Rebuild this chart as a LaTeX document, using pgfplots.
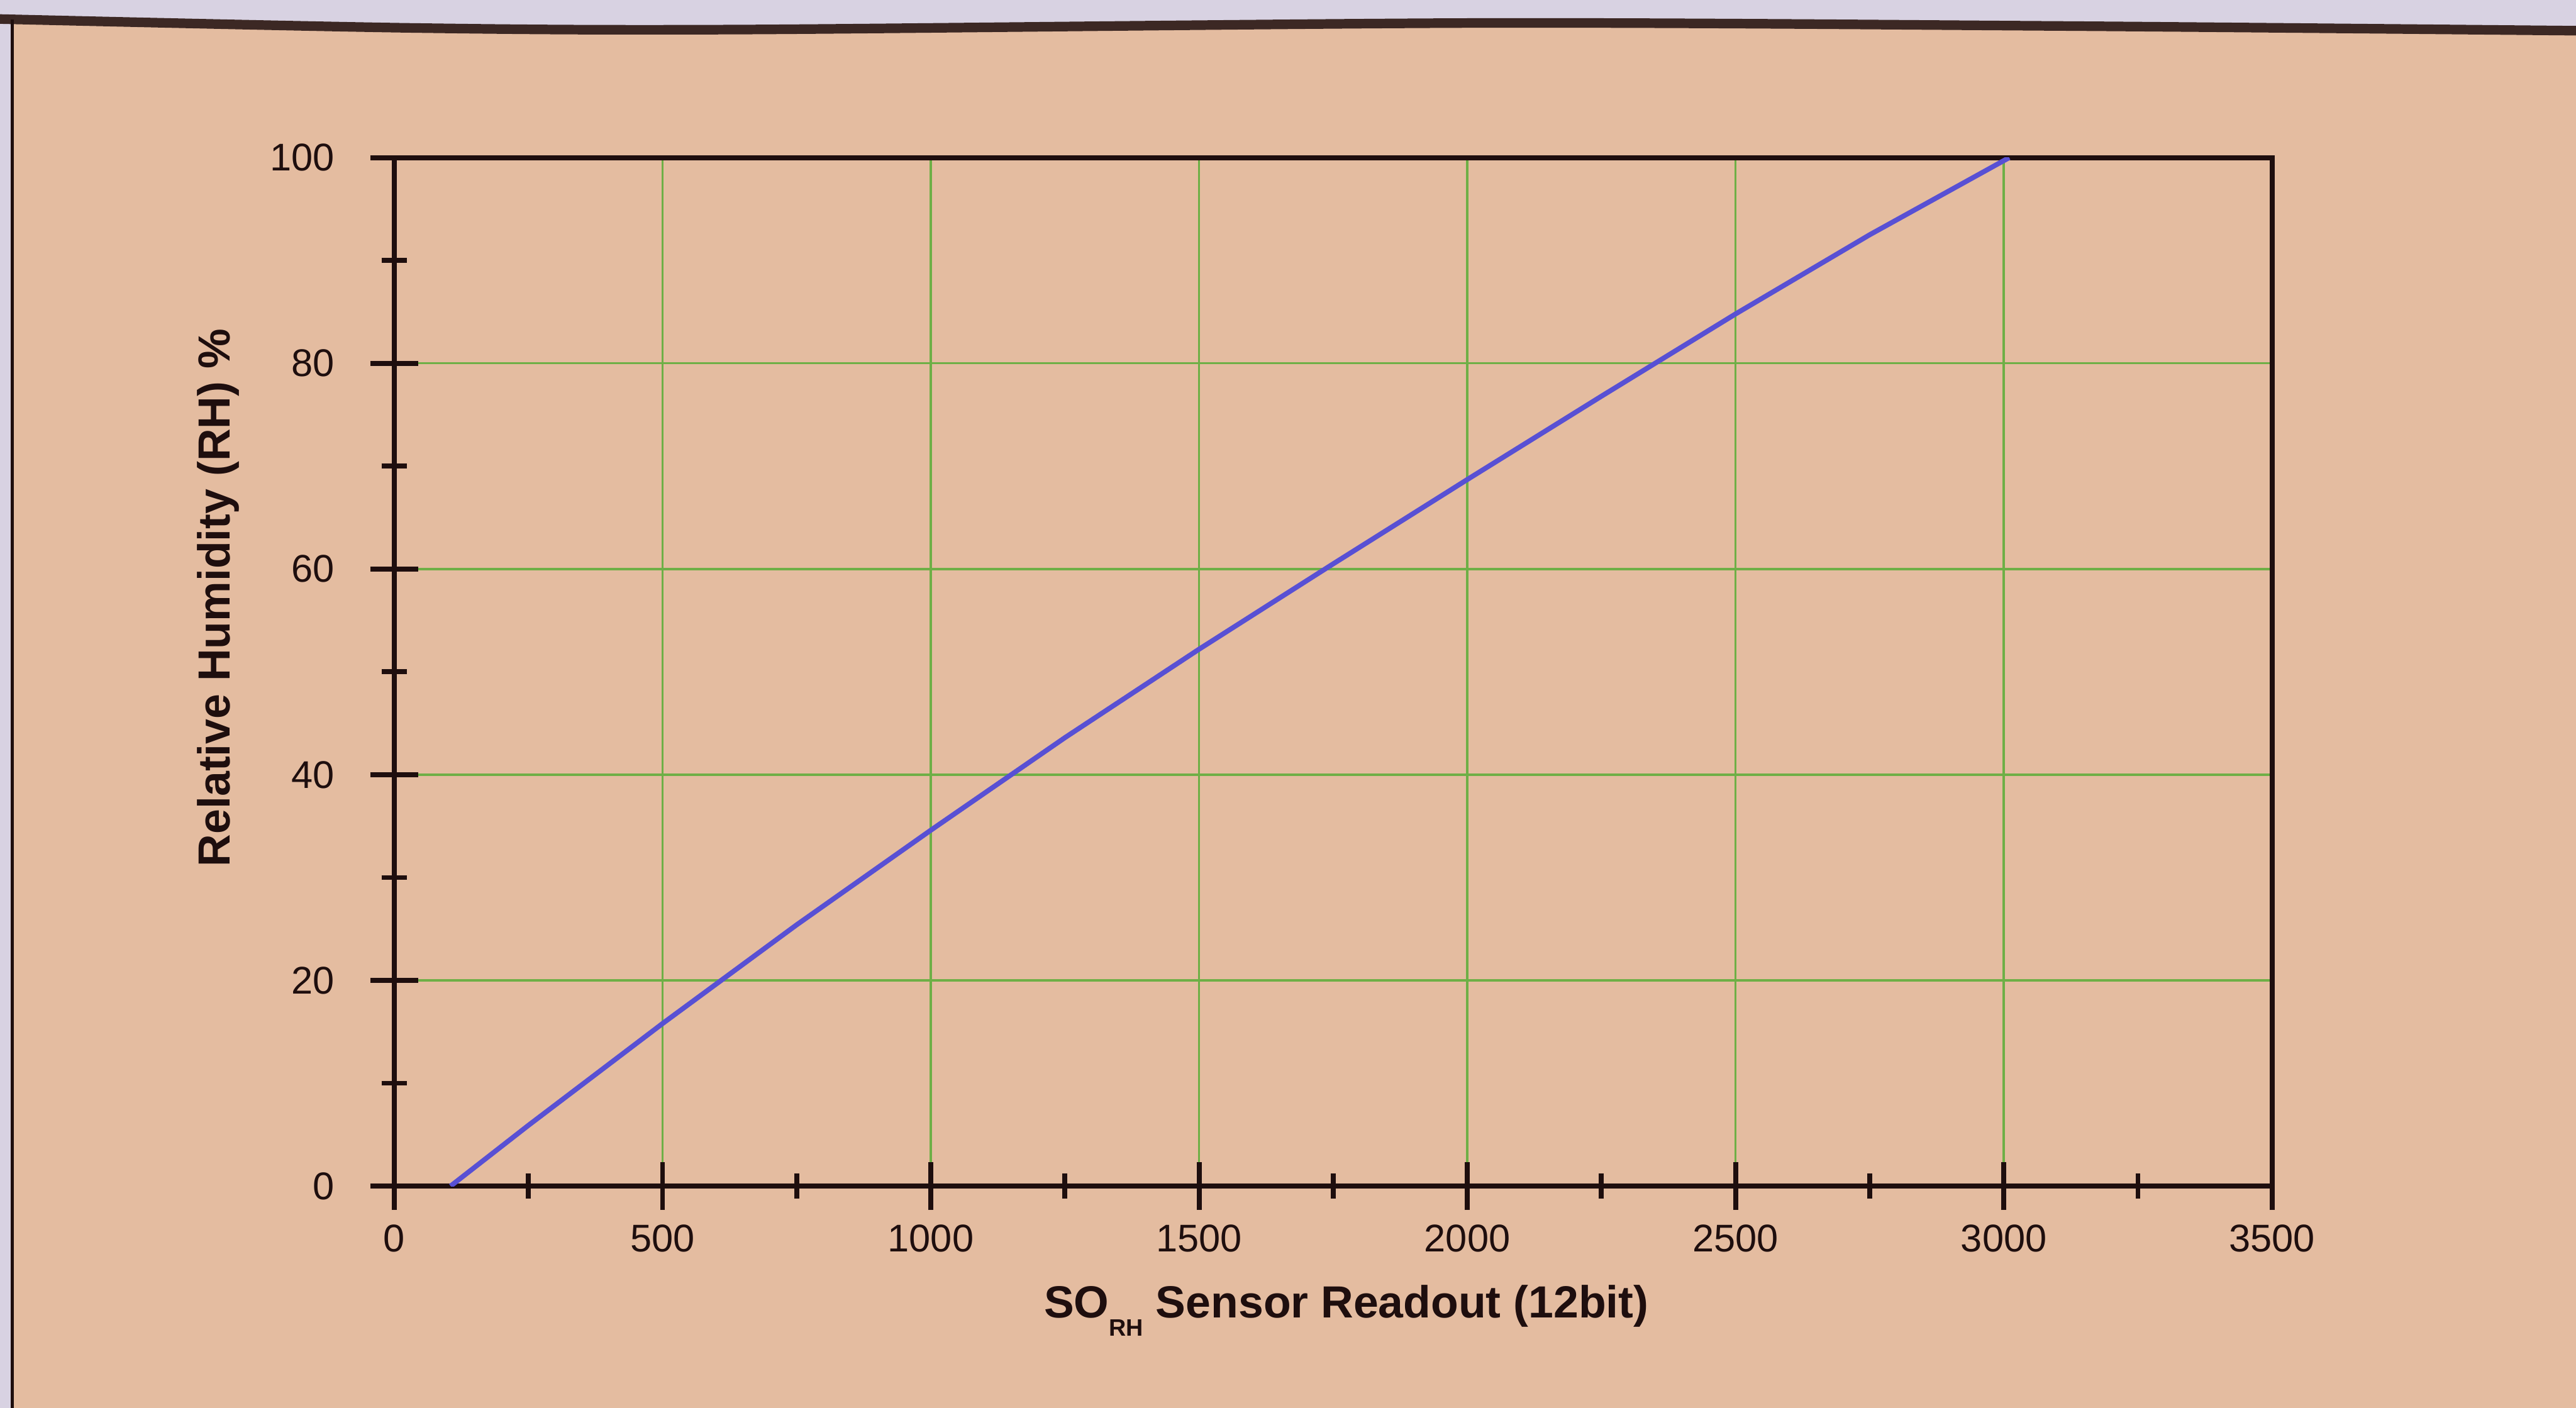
\documentclass[border=0pt]{standalone}
\usepackage{fontspec}
\setmainfont{Liberation Sans}
\usepackage{pgfplots}
\pgfplotsset{compat=1.18}
\definecolor{bgpeach}{RGB}{228,188,160}
\definecolor{lav}{RGB}{216,210,226}
\definecolor{ink}{RGB}{30,14,14}
\definecolor{gridgreen}{RGB}{110,175,70}
\definecolor{curveblue}{RGB}{88,80,212}
\begin{document}
\begin{tikzpicture}
\useasboundingbox (0,0) rectangle (18.301,10.003);
\fill[lav] (0,0) rectangle (18.301,10.003);
\begin{scope}[shift={(0cm,10.003cm)},x=0.011672cm,y=-0.011672cm]
  \fill[bgpeach] (8,857) -- (8,12) -- plot[smooth] coordinates {(8,12) (250,17) (450,18) (900,14) (1250,15.8) (1568,18.7)} -- (1568,857) -- cycle;
  \draw[ink!85!bgpeach, line width=0.068cm] plot[smooth] coordinates {(0,11.6) (250,17) (450,18) (900,14) (1250,15.8) (1568,18.7)};
  \draw[ink, line width=0.022cm] (7.5,12) -- (7.5,857);
\end{scope}
\begin{axis}[
  at={(2.801cm,1.576cm)}, anchor=south west,
  scale only axis, width=13.341cm, height=7.307cm,
  xmin=0, xmax=3500, ymin=0, ymax=100,
  xtick={0,500,...,3500}, ytick={0,20,...,100},
  minor x tick num=1, minor y tick num=1,
  tick align=center, xtick pos=bottom, ytick pos=left,
  major tick length=0.34cm, minor tick length=0.18cm,
  grid=major, major grid style={gridgreen, line width=0.45pt},
  axis line style={ink, line width=1pt},
  tick style={ink, line width=1pt},
  tick label style={font=\fontsize{7.8}{9}\selectfont, text=ink},
  /pgf/number format/assume math mode=true,
  /pgf/number format/1000 sep={},
  scaled ticks=false,
  xticklabel shift=-0.6pt, yticklabel shift=3.7pt,
  label style={font=\bfseries\fontsize{9.1}{11}\selectfont, text=ink},
  xlabel={SO\raisebox{-3.6pt}{\fontsize{4.8}{5}\selectfont RH} Sensor Readout (12bit)},
  ylabel={Relative Humidity (RH) \%},
  xlabel style={at={(axis description cs:0.507,-0.121)}, anchor=center},
  ylabel style={at={(axis description cs:-0.0936,0.572)}, anchor=center},
]
\addplot[curveblue, line width=1pt] coordinates {
  (105,0) (250,5.9) (500,15.8) (750,25.4) (1000,34.6) (1250,43.6)
  (1500,52.2) (1750,60.5) (2000,68.7) (2250,76.8) (2500,84.8) (2750,92.5) (3010,100)};
\end{axis}
\end{tikzpicture}
\end{document}
